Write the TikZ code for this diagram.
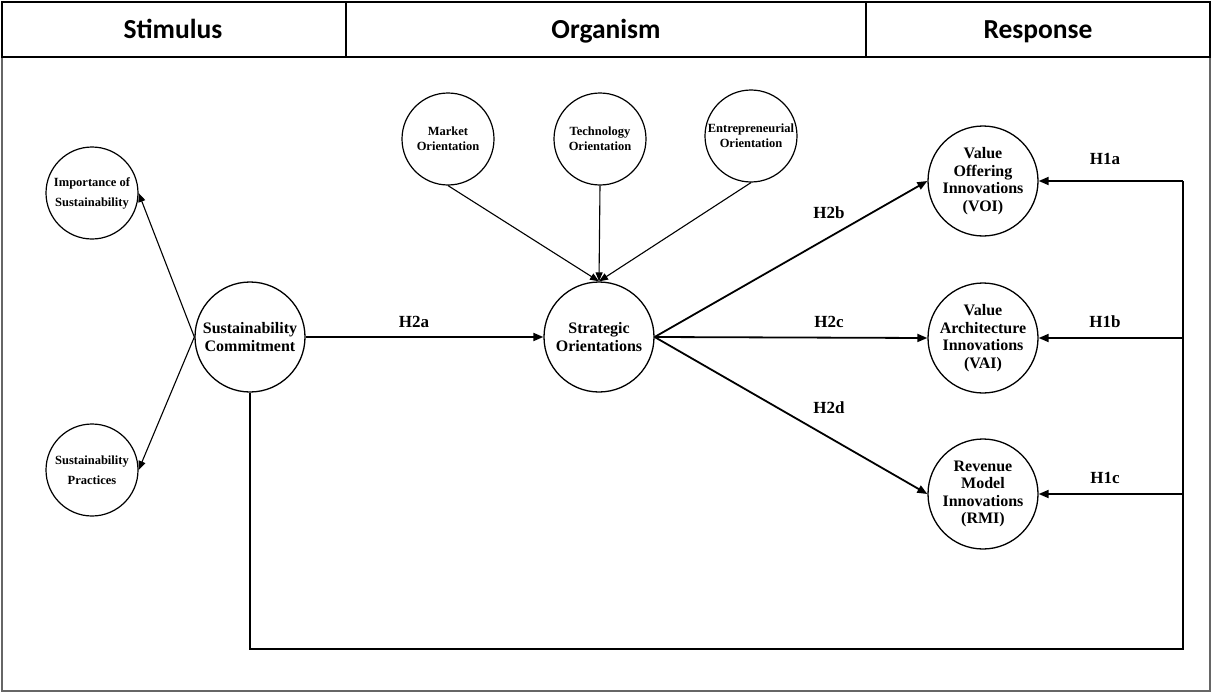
\documentclass[tikz,border=0pt]{standalone}
\usepackage{fontspec}
\setmainfont{Liberation Serif}
\newfontfamily\hdrfont{Carlito}
\usetikzlibrary{arrows.meta}
\begin{document}
\begin{tikzpicture}[x=1pt,y=-1pt,
  hdr/.style={font=\hdrfont\bfseries\fontsize{27.5}{32}\selectfont,anchor=base},
  bigc/.style={circle,draw,line width=1.3pt,minimum size=110pt,inner sep=0pt,align=center,font=\bfseries\fontsize{16}{17.5}\selectfont},
  smallc/.style={circle,draw,line width=1.2pt,minimum size=92pt,inner sep=0pt,align=center,font=\bfseries\fontsize{12.5}{15}\selectfont},
  hlab/.style={font=\bfseries\fontsize{17}{20}\selectfont},
  mainarr/.style={line width=1.8pt,-{Triangle[length=10pt,width=8pt]}},
  thinarr/.style={line width=1.1pt,-{Triangle[length=9pt,width=7pt]}},
  loopline/.style={line width=1.8pt}]
\useasboundingbox (0,0) rectangle (1212,693);
% frame
\draw[line width=1.5pt,black!60] (2,2) rectangle (1210,691);
\draw[line width=1.5pt] (2,2) rectangle (346,57);
\draw[line width=1.5pt] (346,2) rectangle (866,57);
\draw[line width=1.5pt] (866,2) rectangle (1210,57);
\node[hdr] (hs) at (173,38) {Stimulus};
\node[hdr] (ho) at (606,38) {Organism};
\node[hdr] (hr) at (1038,38) {Response};
% nodes
\node[smallc] (imp) at (92,193) {Importance of\\[5pt]Sustainability};
\node[smallc] (prac) at (92,470) {Sustainability\\[5pt]Practices};
\node[bigc] (sc) at (250,337) {Sustainability\\Commitment};
\node[bigc] (so) at (599,337) {Strategic\\Orientations};
\node[smallc] (mo) at (448,139) {Market\\Orientation};
\node[smallc] (to) at (600,139) {Technology\\Orientation};
\node[smallc] (eo) at (751,136) {Entrepreneurial\\Orientation};
\node[bigc] (voi) at (983,181) {Value\\Offering\\Innovations\\(VOI)};
\node[bigc] (vai) at (983,338) {Value\\Architecture\\Innovations\\(VAI)};
\node[bigc] (rmi) at (983,494) {Revenue\\Model\\Innovations\\(RMI)};
% coordinates
\coordinate (c1) at (1183,181);
\coordinate (c2) at (1183,338);
\coordinate (c3) at (1183,494);
\coordinate (cb) at (1183,649);
% connectors
\draw[thinarr] (sc.west) -- (imp.east);
\draw[thinarr] (sc.west) -- (prac.east);
\draw[mainarr] (sc.east) -- (so.west);
\node[hlab] (l2a) at (414,322) {H2a};
\draw[thinarr] (mo.south) -- (so.north);
\draw[thinarr] (to.south) -- (so.north);
\draw[thinarr] (eo.south) -- (so.north);
\draw[mainarr] (so.east) -- (voi.west);
\draw[mainarr] (so.east) -- (vai.west);
\draw[mainarr] (so.east) -- (rmi.west);
\node[hlab] (l2b) at (829,213) {H2b};
\node[hlab] (l2c) at (829,322) {H2c};
\node[hlab] (l2d) at (829,408) {H2d};
\draw[loopline] (sc.south) |- (cb) -- (c1);
\draw[mainarr] (c1) -- (voi.east);
\draw[mainarr] (c2) -- (vai.east);
\draw[mainarr] (c3) -- (rmi.east);
\node[hlab] (l1a) at (1105,159) {H1a};
\node[hlab] (l1b) at (1105,322) {H1b};
\node[hlab] (l1c) at (1105,478) {H1c};
\end{tikzpicture}
\end{document}
